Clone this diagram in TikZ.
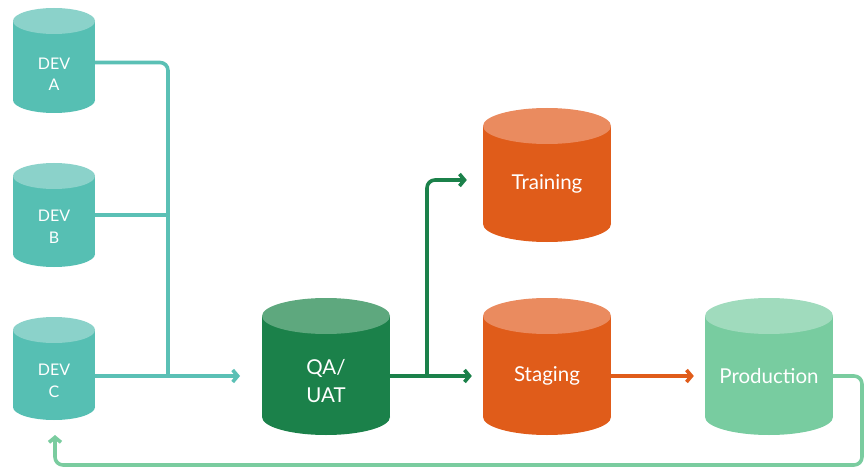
\documentclass[tikz,border=0pt]{standalone}
\usepackage{fontspec}
\setmainfont{Lato}
\usetikzlibrary{arrows.meta,calc}
\definecolor{tealbody}{HTML}{56BFB3}
\definecolor{tealtop}{HTML}{8BD2CA}
\definecolor{tealline}{HTML}{5BC0B5}
\definecolor{qabody}{HTML}{1B814A}
\definecolor{qatop}{HTML}{5EA87E}
\definecolor{orbody}{HTML}{E05C1A}
\definecolor{ortop}{HTML}{EA8B5F}
\definecolor{prbody}{HTML}{78CCA0}
\definecolor{prtop}{HTML}{A0DBBD}
\definecolor{loopline}{HTML}{7ACC9F}
\newcommand{\cylbody}[7]{%
  \fill[#6] (#1-#4,#2) rectangle (#1+#4,#3);
  \fill[#6] (#1,#3) ellipse [x radius=#4, y radius=#5];
  \fill[#7] (#1,#2) ellipse [x radius=#4, y radius=#5];}
\tikzset{
  devlbl/.style={text=white, font=\fontsize{16}{21.5}\selectfont, align=center, inner sep=0pt, minimum width=82pt},
  biglbl/.style={text=white, font=\fontsize{20.5}{28}\selectfont, align=center, inner sep=0pt, minimum width=128pt},
  conn/.style={line width=3.6pt, rounded corners=8pt},
  tip/.style={-{Straight Barb[length=5pt,width=12pt]}}
}
\begin{document}
\begin{tikzpicture}[x=1pt,y=-1pt]
\useasboundingbox (0,0) rectangle (865,468);
% cylinders
\cylbody{54}{21}{100}{41}{13}{tealbody}{tealtop}
\cylbody{54}{176}{254}{41}{13}{tealbody}{tealtop}
\cylbody{54}{330}{407}{41}{13}{tealbody}{tealtop}
\cylbody{326}{316}{417}{64}{18}{qabody}{qatop}
\cylbody{547}{126}{224}{64}{18}{orbody}{ortop}
\cylbody{547}{316}{417}{64}{18}{orbody}{ortop}
\cylbody{769}{316}{417}{64}{18}{prbody}{prtop}
% labels
\node[devlbl] (devA) at (54,74.5) {DEV\\A};
\node[devlbl] (devB) at (54,227) {DEV\\B};
\node[devlbl] (devC) at (54,381) {DEV\\C};
\node[biglbl] (qa) at (326,381) {QA/\\UAT};
\node[biglbl] (trn) at (547,184) {Training};
\node[biglbl] (stg) at (547,376) {Staging};
\node[biglbl] (prd) at (769,376) {Production};
% coordinates
\coordinate (j) at (168,376);
\coordinate (qain) at (240,376);
\coordinate (br) at (427,376);
\coordinate (rc) at (862,465);
\coordinate (cin) at (55,435);
% teal connectors
\draw[conn, tealline] ([yshift=12pt]devA.east) -| (j);
\draw[conn, tealline] ([yshift=12pt]devB.east) -- ([yshift=12pt]devB.east -| j);
\draw[conn, tealline, tip] ([yshift=5pt]devC.east) -- (qain);
% green connectors
\draw[conn, qabody, tip] ([yshift=5pt]qa.east) -- ([xshift=-11pt]stg.west);
\draw[conn, qabody, tip] (br) |- ([xshift=-16pt,yshift=4pt]trn.west);
% orange
\draw[conn, orbody, tip] (stg.east) -- ([xshift=-11pt]prd.west);
% loop
\draw[conn, loopline, tip] (prd.east) -| (rc) -| (cin);
\end{tikzpicture}
\end{document}
